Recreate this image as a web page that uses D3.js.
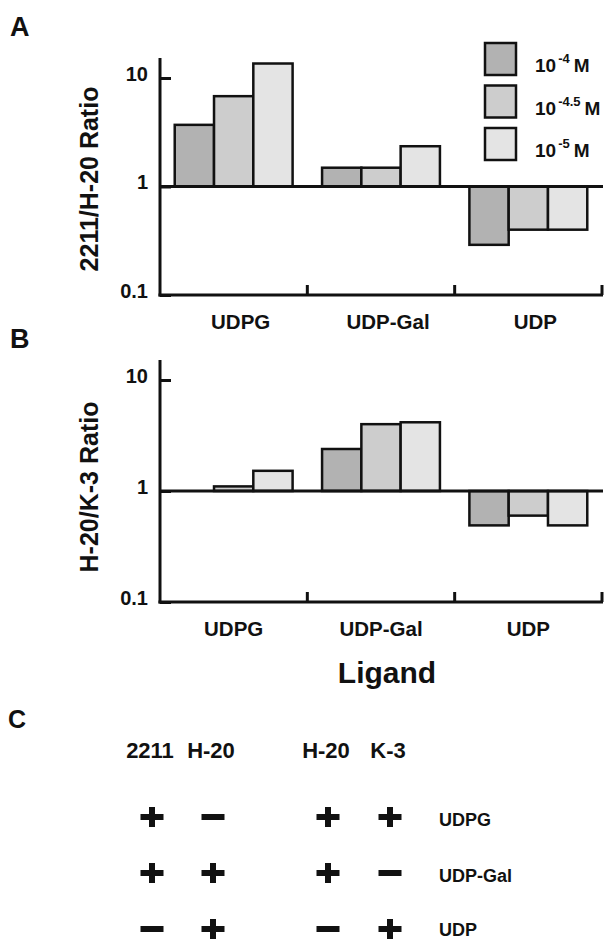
<!DOCTYPE html>
<html>
<head>
<meta charset="utf-8">
<script src="https://cdn.jsdelivr.net/npm/d3@7"></script>
<style>
	body { margin: 0; background: #fff; }
	svg text { font-family: "Liberation Sans", Arial, Helvetica, sans-serif; font-weight: bold; fill: #111; }
</style>
</head>
<body>
<svg id="fig" width="610" height="941"></svg>
<script>

// data
var ligands = ['UDPG', 'UDP-Gal', 'UDP'];
var concentrations = ['-4', '-4.5', '-5'];
var yTicks = [0.1, 1, 10];

// panel A: 2211/H-20 ratio, one array per concentration (UDPG, UDP-Gal, UDP)
var ratioA_conc4 = [3.7, 1.49, 0.29];
var ratioA_conc45 = [6.8, 1.49, 0.40];
var ratioA_conc5 = [13.6, 2.35, 0.40];

// panel B: H-20/K-3 ratio
var ratioB_conc4 = [1.0, 2.39, 0.49];
var ratioB_conc45 = [1.1, 4.0, 0.60];
var ratioB_conc5 = [1.52, 4.16, 0.49];

// panel C: ligand responses per cell line
var cellColumns = ['2211', 'H-20', 'H-20', 'K-3'];
var ligandRows = ['UDPG', 'UDP-Gal', 'UDP'];
var responseUDPG = ['+', '-', '+', '+'];
var responseUDPGal = ['+', '+', '+', '-'];
var responseUDP = ['-', '+', '-', '+'];

var fills = ['#b2b2b2', '#cdcdcd', '#e4e4e4'];

var svg = d3.select('#fig');

var x0 = d3.scaleBand()
	.domain(ligands)
	.range([160, 602]);

var x1 = d3.scaleBand()
	.domain(concentrations)
	.range([0, x0.bandwidth()])
	.paddingOuter(0.375);

var color = d3.scaleOrdinal()
	.domain(concentrations)
	.range(fills);

function drawPanel(opts) {

	var y = d3.scaleLog()
		.domain([0.1, 10])
		.range(opts.yRange);

	var g = svg.append('g');

	g.append('text')
		.attr('x', 10)
		.attr('y', opts.letterY)
		.style('font-size', '27px')
		.text(opts.letter);

	// bars grow up or down from 1
	var rows = [];
	opts.series.forEach((vals, si) => {
		vals.forEach((v, li) => {
			rows.push({lig: ligands[li], conc: concentrations[si], v: v});
		});
	});

	g.selectAll('.bar')
		.data(rows)
		.enter()
		.append('rect')
		.attr('class', 'bar')
		.attr('x', d => x0(d.lig) + x1(d.conc))
		.attr('width', x1.bandwidth())
		.attr('y', d => Math.min(y(d.v), y(1)))
		.attr('height', d => Math.abs(y(d.v) - y(1)))
		.attr('fill', d => color(d.conc))
		.attr('stroke', '#111')
		.attr('stroke-width', 2.5);

	// baseline at ratio 1
	g.append('line')
		.attr('x1', 160).attr('x2', 603)
		.attr('y1', y(1)).attr('y2', y(1))
		.attr('stroke', '#111').attr('stroke-width', 3);

	// y axis
	var yAxis = d3.axisLeft(y)
		.tickValues(yTicks)
		.tickFormat(d => d === 0.1 ? '0.1' : d3.format('d')(d))
		.tickSizeInner(-11)
		.tickSizeOuter(0)
		.tickPadding(12);

	var ya = g.append('g')
		.attr('transform', 'translate(160,0)')
		.call(yAxis);

	ya.select('.domain').remove();
	ya.selectAll('line').attr('stroke', '#111').attr('stroke-width', 3);
	ya.selectAll('text')
		.attr('dy', '0.12em')
		.style('font-size', '20px')
		.style('font-family', '"Liberation Sans", Arial, sans-serif')
		.attr('fill', '#111');

	g.append('line')
		.attr('x1', 160).attr('x2', 160)
		.attr('y1', y(10) - 20).attr('y2', y(0.1) + 1.5)
		.attr('stroke', '#111').attr('stroke-width', 3);

	// x axis with ticks at the band edges
	g.append('line')
		.attr('x1', 158.5).attr('x2', 603)
		.attr('y1', y(0.1)).attr('y2', y(0.1))
		.attr('stroke', '#111').attr('stroke-width', 3);

	g.selectAll('.xtick')
		.data(ligands)
		.enter()
		.append('line')
		.attr('class', 'xtick')
		.attr('x1', d => x0(d) + x0.bandwidth())
		.attr('x2', d => x0(d) + x0.bandwidth())
		.attr('y1', y(0.1))
		.attr('y2', y(0.1) - 10)
		.attr('stroke', '#111').attr('stroke-width', 3);

	g.selectAll('.xlab')
		.data(ligands)
		.enter()
		.append('text')
		.attr('class', 'xlab')
		.attr('x', d => x0(d) + x0.bandwidth() / 2 + opts.labelShift)
		.attr('y', y(0.1) + 34)
		.attr('text-anchor', 'middle')
		.style('font-size', '20.5px')
		.text(d => d);

	// y title
	g.append('text')
		.attr('transform', `translate(98,${opts.titleY}) rotate(-90)`)
		.attr('text-anchor', 'middle')
		.style('font-size', '25px')
		.text(opts.title);

	return y;
}

drawPanel({
	letter: 'A', letterY: 36,
	series: [ratioA_conc4, ratioA_conc45, ratioA_conc5],
	yRange: [295, 78], title: '2211/H-20 Ratio', titleY: 179, labelShift: 7
});
drawPanel({
	letter: 'B', letterY: 348,
	series: [ratioB_conc4, ratioB_conc45, ratioB_conc5],
	yRange: [602, 380], title: 'H-20/K-3 Ratio', titleY: 487, labelShift: 0
});

// legend
var legend = svg.append('g')
	.selectAll('g')
	.data(concentrations)
	.enter()
	.append('g')
	.attr('transform', (d, i) => `translate(485,${43 + i * 42.5})`);

legend.append('rect')
	.attr('width', 31)
	.attr('height', 32)
	.attr('fill', d => color(d))
	.attr('stroke', '#111')
	.attr('stroke-width', 2.5);

var lt = legend.append('text')
	.attr('x', 50)
	.attr('y', 29)
	.style('font-size', '19px');

lt.append('tspan').text('10');
lt.append('tspan')
	.attr('dy', -9)
	.attr('dx', 2)
	.style('font-size', '13px')
	.text(d => d);
lt.append('tspan')
	.attr('dy', 9)
	.attr('dx', 4)
	.text('M');

// axis title shared by A and B
svg.append('text')
	.attr('x', 387)
	.attr('y', 683)
	.attr('text-anchor', 'middle')
	.style('font-size', '30px')
	.text('Ligand');

// panel C
svg.append('text')
	.attr('x', 8)
	.attr('y', 728)
	.style('font-size', '25px')
	.text('C');

var colPos = [152, 213, 328, 390];

var rowY = d3.scalePoint()
	.domain(ligandRows)
	.range([817, 929]);

svg.selectAll('.colhead')
	.data(cellColumns)
	.enter()
	.append('text')
	.attr('class', 'colhead')
	.attr('x', (d, i) => colPos[i] - 2)
	.attr('y', 758)
	.attr('text-anchor', 'middle')
	.style('font-size', '22px')
	.text(d => d);

svg.selectAll('.rowlab')
	.data(ligandRows)
	.enter()
	.append('text')
	.attr('class', 'rowlab')
	.attr('x', 439)
	.attr('y', d => Math.min(rowY(d) + 9, 936))
	.style('font-size', '18px')
	.text(d => d);

var signs = [];
[responseUDPG, responseUDPGal, responseUDP].forEach((row, ri) => {
	row.forEach((s, ci) => {
		signs.push({row: ligandRows[ri], col: ci, sign: s});
	});
});

var cell = svg.selectAll('.sign')
	.data(signs)
	.enter()
	.append('g')
	.attr('class', 'sign')
	.attr('transform', d => `translate(${colPos[d.col]},${rowY(d.row)})`);

cell.append('rect')
	.attr('x', -11.5).attr('y', -3)
	.attr('width', 23).attr('height', 6)
	.attr('fill', '#111');

cell.filter(d => d.sign === '+')
	.append('rect')
	.attr('x', -3).attr('y', -10)
	.attr('width', 6).attr('height', 20)
	.attr('fill', '#111');

</script>
</body>
</html>
